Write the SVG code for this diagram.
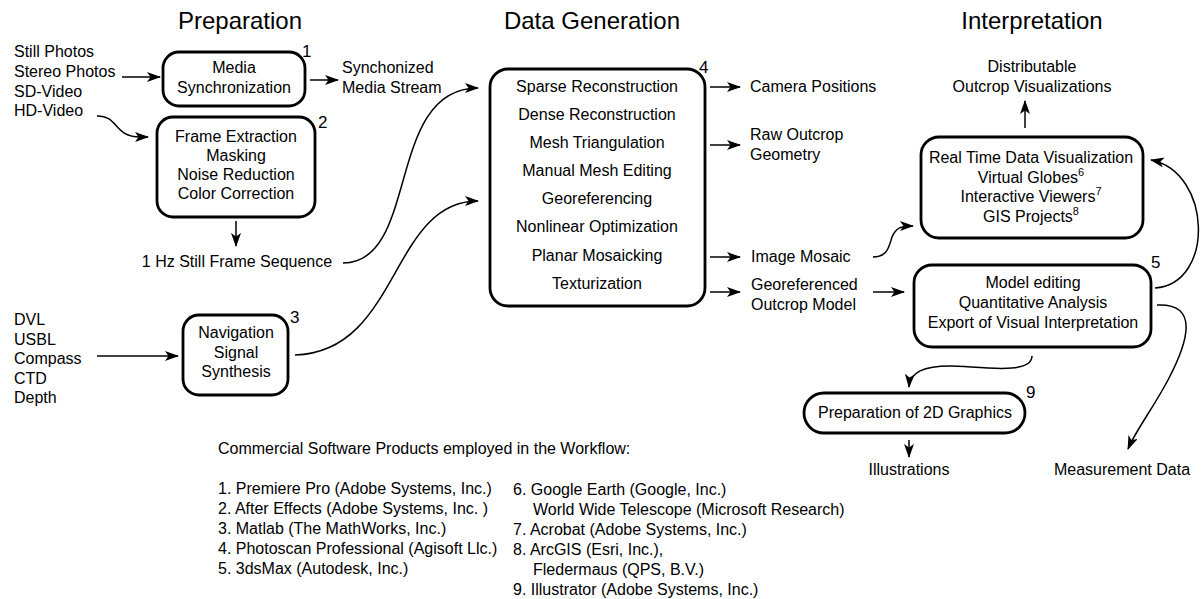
<svg xmlns="http://www.w3.org/2000/svg" width="1202" height="599" viewBox="0 0 1202 599">
<style>
text{font-family:"Liberation Sans",Arial,Helvetica,sans-serif;font-size:16px;fill:#000}
.t{font-size:24px;text-anchor:middle}
.c{text-anchor:middle}
.n{font-size:17px}
.box{fill:#fff;stroke:#000;stroke-width:2.8}
.ln{fill:none;stroke:#000;stroke-width:1.5;marker-end:url(#ah)}
.sup{font-size:11px}
</style>
<defs>
<marker id="ah" viewBox="0 0 14 10" refX="13" refY="5" markerWidth="14" markerHeight="10" markerUnits="userSpaceOnUse" orient="auto">
<path d="M0,0 L14,5 L0,10 L3.5,5 z" fill="#000"/>
</marker>
</defs>
<rect width="1202" height="599" fill="#fff"/>
<g id="titles">
<text class="t" x="240" y="29">Preparation</text>
<text class="t" x="592" y="29">Data Generation</text>
<text class="t" x="1032" y="29">Interpretation</text>
</g>
<g id="media-inputs">
<text x="14" y="57">Still Photos</text>
<text x="14" y="77">Stereo Photos</text>
<text x="14" y="97">SD-Video</text>
<text x="14" y="116">HD-Video</text>
</g>
<g id="nav-inputs">
<text x="14" y="325">DVL</text>
<text x="14" y="345">USBL</text>
<text x="14" y="364">Compass</text>
<text x="14" y="384">CTD</text>
<text x="14" y="403">Depth</text>
</g>
<g id="node1">
<rect class="box" x="163" y="52" width="142" height="54" rx="16"/>
<text class="c" x="234" y="73">Media</text>
<text class="c" x="234" y="93">Synchronization</text>
<text class="n" x="302" y="57">1</text>
</g>
<g id="node2">
<rect class="box" x="157" y="117" width="158" height="100" rx="16"/>
<text class="c" x="236" y="142">Frame Extraction</text>
<text class="c" x="236" y="161">Masking</text>
<text class="c" x="236" y="180">Noise Reduction</text>
<text class="c" x="236" y="199">Color Correction</text>
<text class="n" x="318" y="128">2</text>
</g>
<g id="sync-stream">
<text x="342" y="73">Synchonized</text>
<text x="342" y="93">Media Stream</text>
</g>
<g id="frame-seq">
<text class="c" x="237" y="267">1 Hz Still Frame Sequence</text>
</g>
<g id="node3">
<rect class="box" x="183" y="315" width="105" height="80" rx="16"/>
<text class="c" x="236" y="338">Navigation</text>
<text class="c" x="236" y="358">Signal</text>
<text class="c" x="236" y="377">Synthesis</text>
<text class="n" x="290" y="323">3</text>
</g>
<g id="node4">
<rect class="box" x="490" y="69" width="215" height="237" rx="18"/>
<text class="c" x="597" y="92">Sparse Reconstruction</text>
<text class="c" x="597" y="120">Dense Reconstruction</text>
<text class="c" x="597" y="148">Mesh Triangulation</text>
<text class="c" x="597" y="176">Manual Mesh Editing</text>
<text class="c" x="597" y="204">Georeferencing</text>
<text class="c" x="597" y="232">Nonlinear Optimization</text>
<text class="c" x="597" y="261">Planar Mosaicking</text>
<text class="c" x="597" y="289">Texturization</text>
<text class="n" x="699" y="73">4</text>
</g>
<g id="outputs4">
<text x="750" y="92">Camera Positions</text>
<text x="750" y="140">Raw Outcrop</text>
<text x="750" y="160">Geometry</text>
<text x="751" y="262">Image Mosaic</text>
<text x="751" y="290">Georeferenced</text>
<text x="751" y="310">Outcrop Model</text>
</g>
<g id="distributable">
<text class="c" x="1032" y="72">Distributable</text>
<text class="c" x="1032" y="92">Outcrop Visualizations</text>
</g>
<g id="node-visualization">
<rect class="box" x="921" y="137" width="222" height="101" rx="18"/>
<text class="c" x="1031" y="163">Real Time Data Visualization</text>
<text class="c" x="1031" y="183">Virtual Globes<tspan class="sup" dy="-7">6</tspan></text>
<text class="c" x="1031" y="202">Interactive Viewers<tspan class="sup" dy="-7">7</tspan></text>
<text class="c" x="1031" y="222">GIS Projects<tspan class="sup" dy="-7">8</tspan></text>
</g>
<g id="node5">
<rect class="box" x="914" y="265" width="237" height="82" rx="18"/>
<text class="c" x="1033" y="288">Model editing</text>
<text class="c" x="1033" y="308">Quantitative Analysis</text>
<text class="c" x="1033" y="328">Export of Visual Interpretation</text>
<text class="n" x="1151" y="268">5</text>
</g>
<g id="node9">
<rect class="box" x="804" y="393" width="221" height="40" rx="20"/>
<text class="c" x="915" y="418">Preparation of 2D Graphics</text>
<text class="n" x="1026" y="398">9</text>
</g>
<g id="final-outputs">
<text class="c" x="909" y="475">Illustrations</text>
<text class="c" x="1122" y="475">Measurement Data</text>
</g>
<g id="software-list">
<text x="218" y="454">Commercial Software Products employed in the Workflow:</text>
<text x="218" y="494">1. Premiere Pro (Adobe Systems, Inc.)</text>
<text x="218" y="514">2. After Effects (Adobe Systems, Inc. )</text>
<text x="218" y="534">3. Matlab (The MathWorks, Inc.)</text>
<text x="218" y="554">4. Photoscan Professional (Agisoft Llc.)</text>
<text x="218" y="574">5. 3dsMax (Autodesk, Inc.)</text>
<text x="513" y="495">6. Google Earth (Google, Inc.)</text>
<text x="533" y="515">World Wide Telescope (Microsoft Research)</text>
<text x="513" y="535">7. Acrobat (Adobe Systems, Inc.)</text>
<text x="513" y="555">8. ArcGIS (Esri, Inc.),</text>
<text x="533" y="575">Fledermaus (QPS, B.V.)</text>
<text x="513" y="595">9. Illustrator (Adobe Systems, Inc.)</text>
</g>
<g id="connectors">
<path class="ln" d="M122,77 L160,77"/>
<path class="ln" d="M97,116 C118,115 114,137 140,137 L148,137"/>
<path class="ln" d="M310,80 L338,80"/>
<path class="ln" d="M236,221 L236,246"/>
<path class="ln" d="M343,263 C420,263 385,88 478,88"/>
<path class="ln" d="M97,356 L178,356"/>
<path class="ln" d="M295,355 C400,352 390,201 478,201"/>
<path class="ln" d="M710,87 L740,87"/>
<path class="ln" d="M710,145 L740,145"/>
<path class="ln" d="M710,257 L740,257"/>
<path class="ln" d="M710,292 L740,292"/>
<path class="ln" d="M873,292 L904,292"/>
<path class="ln" d="M873,257 C888,257 889,246 892,237 C896,228 900,226 913,226"/>
<path class="ln" d="M1025,128 L1025,101"/>
<path class="ln" d="M1155,288 C1215,284 1212,172 1151,160"/>
<path class="ln" d="M1157,305 C1200,303 1188,342 1168,380 C1152,410 1136,430 1128,449"/>
<path class="ln" d="M1032,356 C1032,376 975,366 950,366 C924,366 910,372 909,387"/>
<path class="ln" d="M909,440 L909,457"/>
</g>
</svg>
